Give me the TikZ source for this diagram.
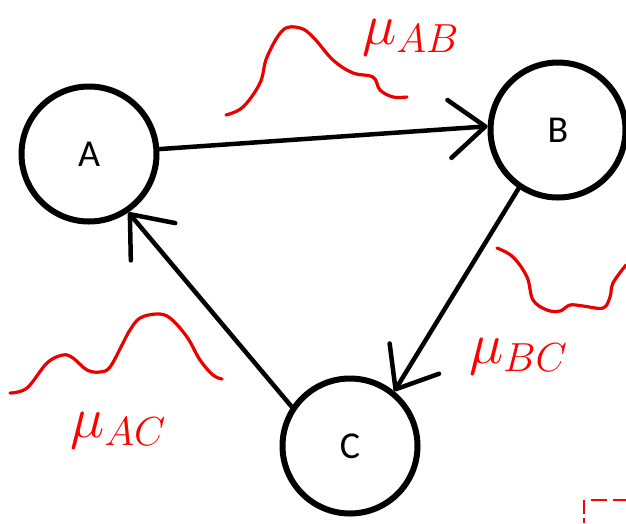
\RequirePackage{fix-cm}
\documentclass[tikz,border=0pt]{standalone}
\usepackage{fontspec}
\setmainfont{Carlito}
\usetikzlibrary{arrows.meta}
\tikzset{
  state/.style={circle, draw=black, line width=6pt, minimum size=135pt, inner sep=0pt,
    font=\fontsize{38}{40}\selectfont},
  conn/.style={draw=black, line width=4.5pt, line cap=round,
    -{Straight Barb[length=36pt, width=58pt, line width=4.5pt, round]}},
  lbl/.style={text=red, inner sep=0pt, anchor=base west, font=\fontsize{58}{64}\selectfont},
  squig/.style={draw=red!92!black, line width=3.2pt, line cap=round, line join=round},
}
\begin{document}
\begin{tikzpicture}[x=1pt,y=-1pt]
\useasboundingbox (0,0) rectangle (626,523);
\node[state] (A) at (89,154) {A};
\node[state] (B) at (558,130) {B};
\node[state] (C) at (350,446) {C};
\draw[conn] (A.4) -- (B.177);
\draw[conn] (B.236) -- (C.51);
\draw[conn] (C.146) -- (A.304);
\node[lbl] (muAB) at (362,44) {$\mu_{AB}$};
\node[lbl] (muBC) at (469,363) {$\mu_{BC}$};
\node[lbl] (muAC) at (70,437) {$\mu_{AC}$};
\draw[squig] plot[smooth, tension=0.6] coordinates {(226,115) (243,107) (260,83) (267,57) (283,30) (300,28) (313,37) (333,60) (353,73) (373,77) (380,90) (393,97) (407,97)};
\draw[squig] plot[smooth, tension=0.6] coordinates {(497,248) (513,257) (527,277) (533,300) (547,310) (560,311) (570,305) (583,306) (603,308) (610,297) (613,283) (626,265)};
\draw[squig] plot[smooth, tension=0.6] coordinates {(10,393) (27,388) (47,363) (63,355) (73,358) (87,370) (100,372) (110,367) (123,343) (130,330) (140,318) (157,314) (170,318) (187,337) (200,360) (213,375) (222,379)};
\coordinate (sel) at (584,500);
\draw[red, line width=1.6pt, dash pattern=on 14pt off 4pt] (sel) -- ++(0,23);
\draw[red, line width=1.6pt, dash pattern=on 16pt off 6pt] ([xshift=7pt]sel) -- ++(35,0);
\end{tikzpicture}
\end{document}
